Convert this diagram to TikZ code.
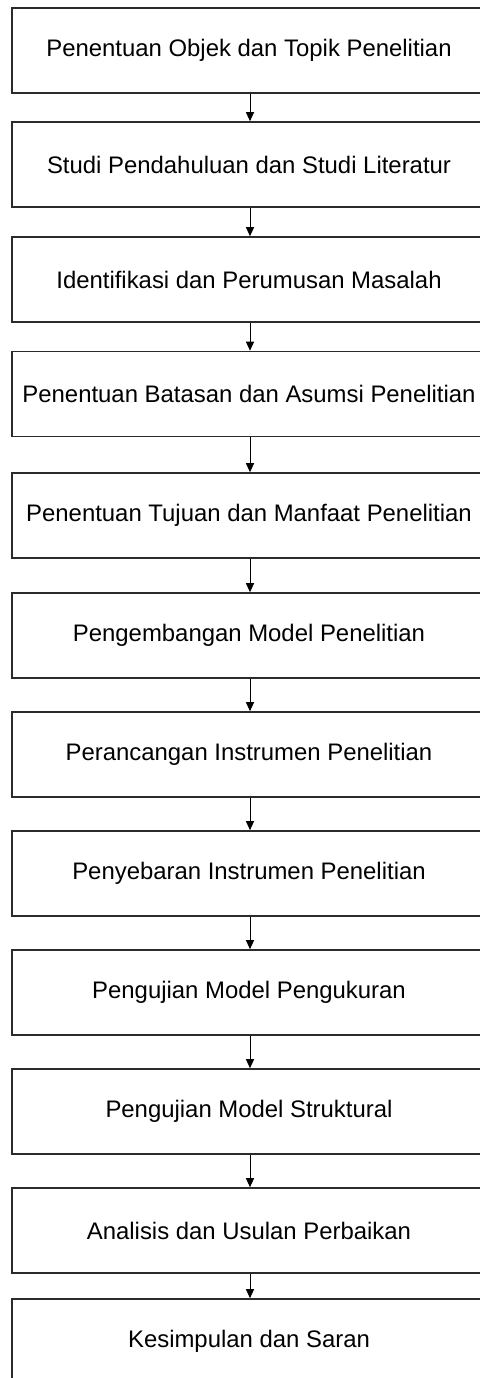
\documentclass[tikz,border=0pt]{standalone}
\usepackage{fontspec}
\setmainfont{Liberation Sans}
\usetikzlibrary{arrows.meta}
\definecolor{edge}{HTML}{2B2B2B}
\tikzset{
  box/.style={draw=edge, line width=1.6pt, rectangle, minimum width=474pt,
    minimum height=85pt, inner sep=0pt, align=center,
    font=\fontsize{23.9}{28}\selectfont, text=black},
  flow/.style={draw=black, line width=1pt, -{Triangle[width=8pt,length=9pt]}}
}
\begin{document}
\begin{tikzpicture}[x=1pt,y=-1pt]
\useasboundingbox (0,0) rectangle (479,1378);
\node[box] (n1)  at (249,50.5)   {Penentuan Objek dan Topik Penelitian};
\node[box] (n2)  at (249,164.5)  {Studi Pendahuluan dan Studi Literatur};
\node[box] (n3)  at (249,279.5)  {Identifikasi dan Perumusan Masalah};
\node[box] (n4)  at (249,394)    {Penentuan Batasan dan Asumsi Penelitian};
\node[box] (n5)  at (249,515.5)  {Penentuan Tujuan dan Manfaat Penelitian};
\node[box] (n6)  at (249,635.5)  {Pengembangan Model Penelitian};
\node[box] (n7)  at (249,754.5)  {Perancangan Instrumen Penelitian};
\node[box] (n8)  at (249,873.5)  {Penyebaran Instrumen Penelitian};
\node[box] (n9)  at (249,992.5)  {Pengujian Model Pengukuran};
\node[box] (n10) at (249,1111.5) {Pengujian Model Struktural};
\node[box] (n11) at (249,1230.5) {Analisis dan Usulan Perbaikan};
\node[box] (n12) at (249,1341.5) {Kesimpulan dan Saran};
\foreach \a/\b in {n1/n2,n2/n3,n3/n4,n4/n5,n5/n6,n6/n7,n7/n8,n8/n9,n9/n10,n10/n11,n11/n12}
  \draw[flow] ([xshift=1pt]\a.south) -- ([xshift=1pt]\b.north);
\end{tikzpicture}
\end{document}
